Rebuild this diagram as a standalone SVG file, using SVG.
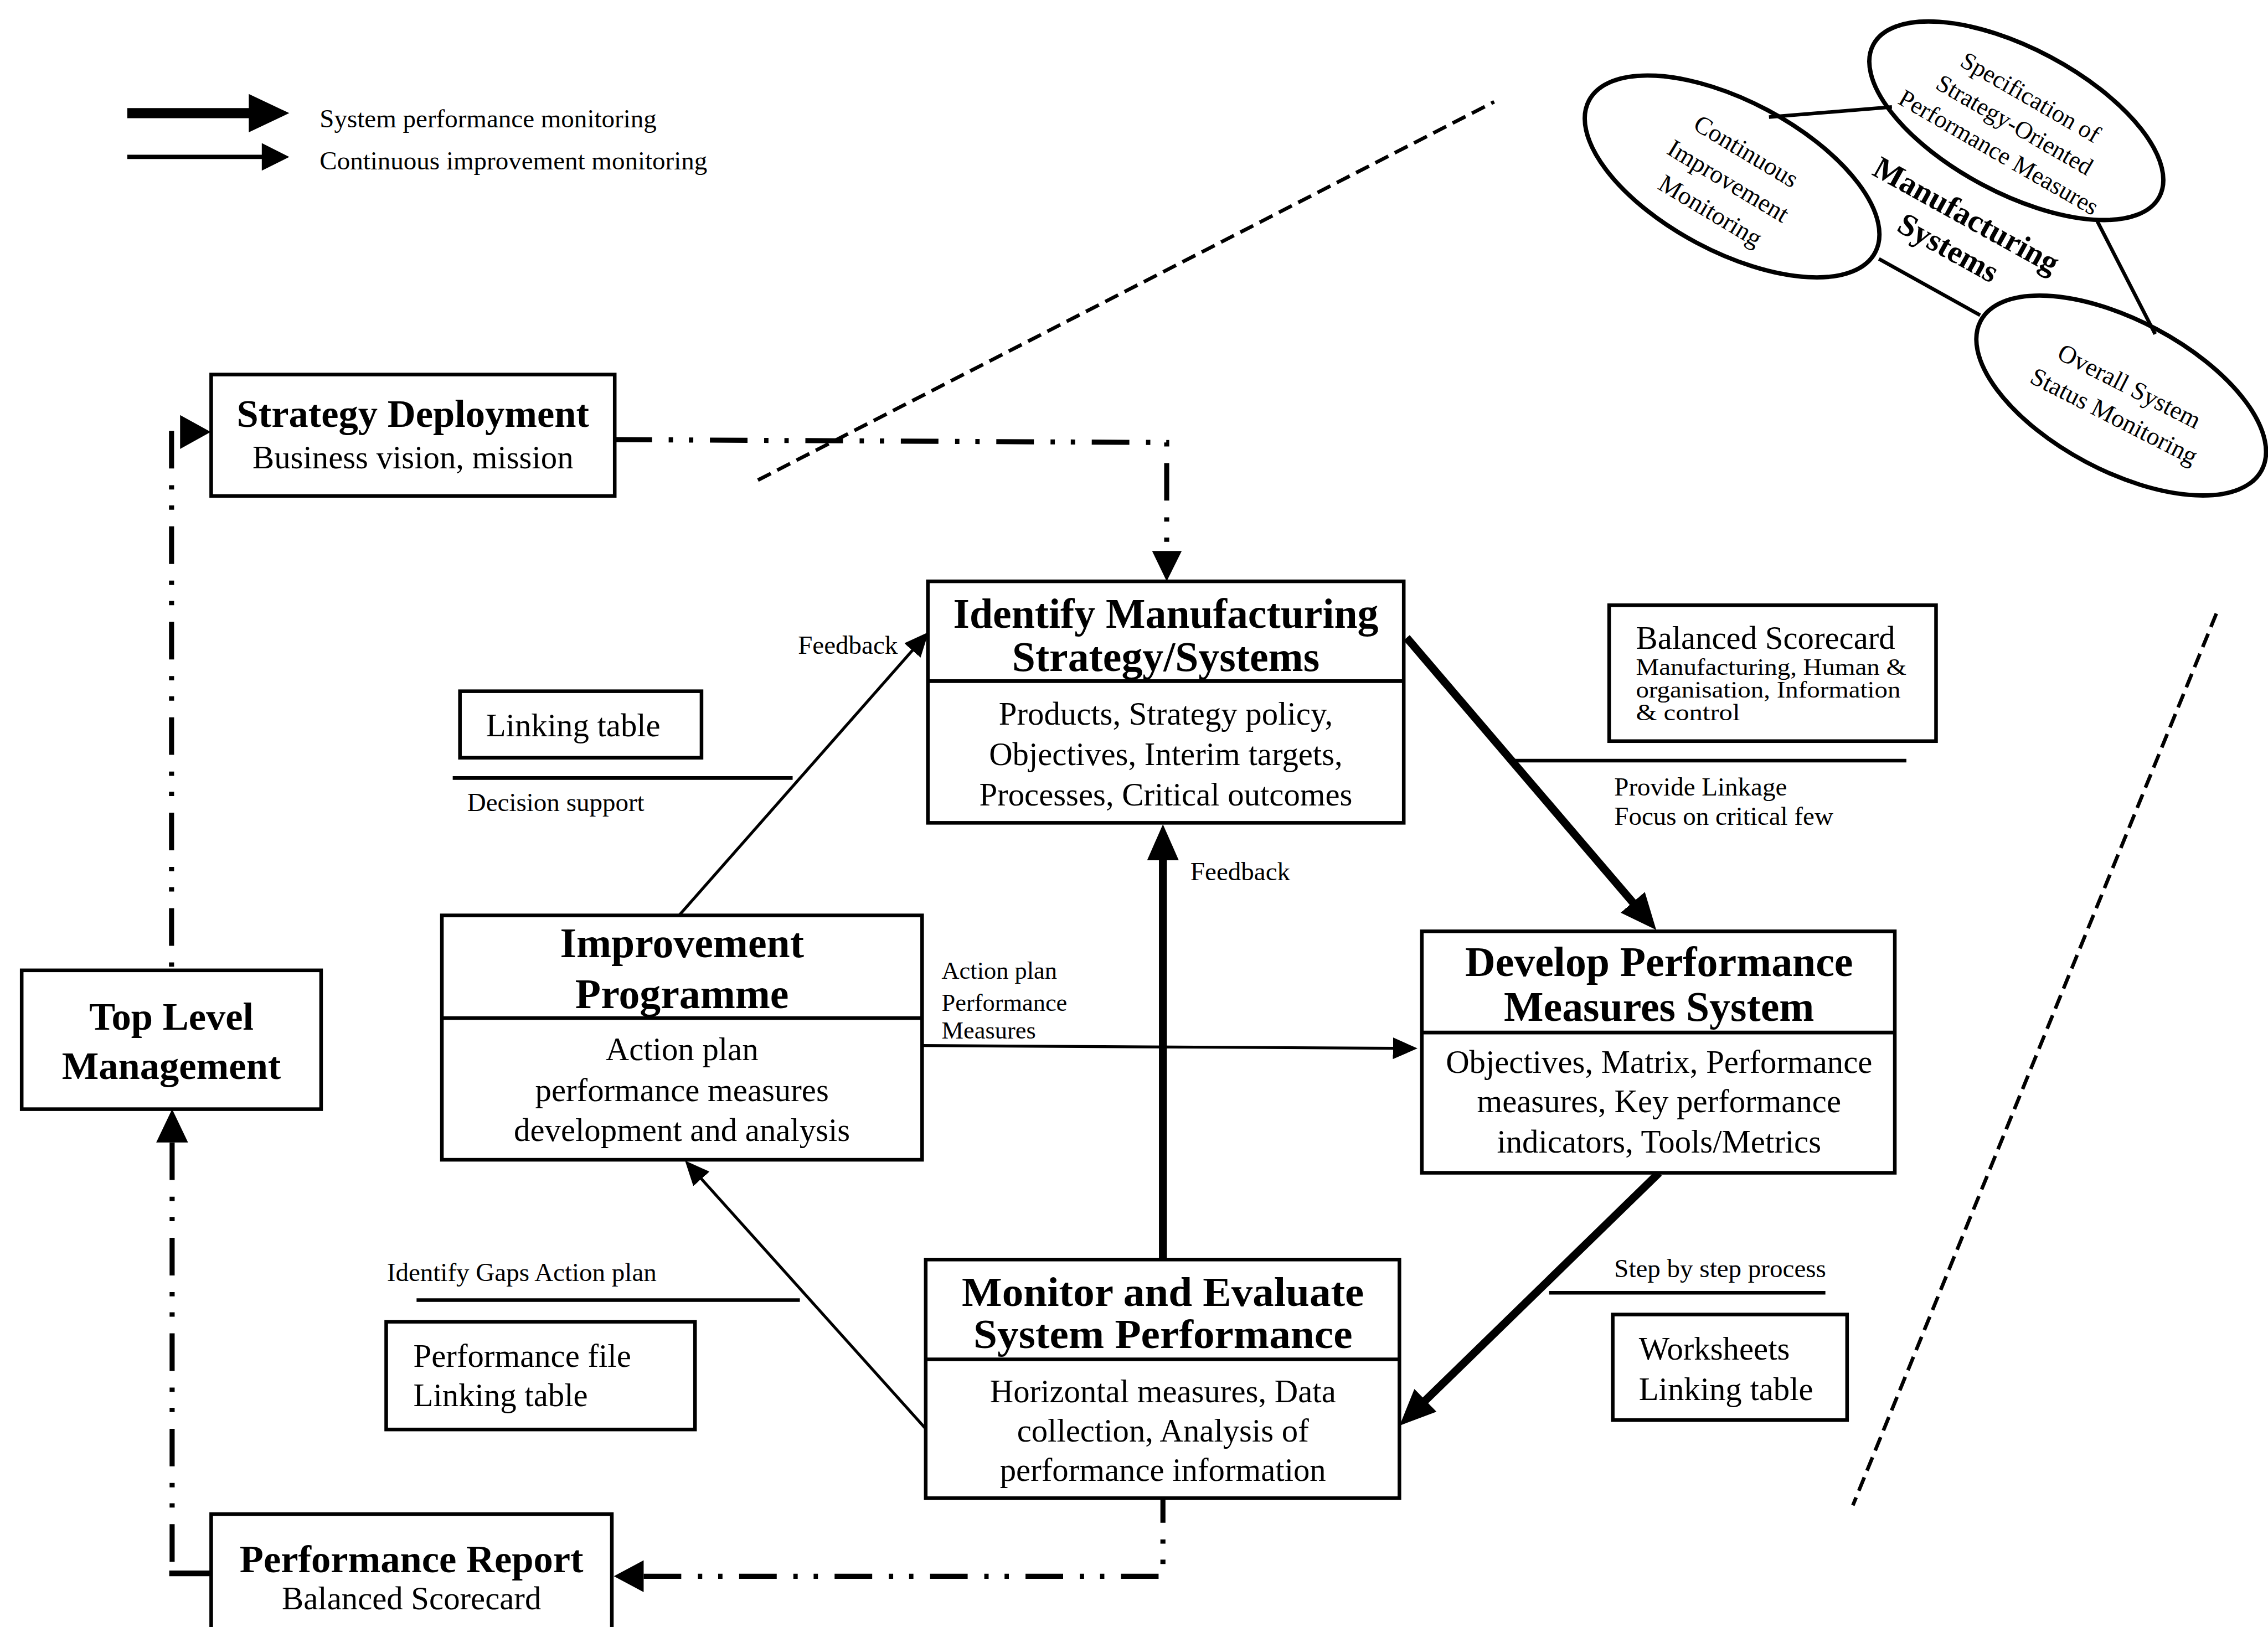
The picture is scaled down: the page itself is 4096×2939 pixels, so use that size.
<svg xmlns="http://www.w3.org/2000/svg" width="4096" height="2939" viewBox="0 0 4096 2939">
<style>
.box{fill:#fff;stroke:#000;stroke-width:2.5}
.div{stroke:#000;stroke-width:2.5}
.t{font-family:"Liberation Serif","Times New Roman",serif;fill:#000}
.ttl{font-weight:bold;font-size:29px;text-anchor:middle}
.ttl2{font-weight:bold;font-size:27px;text-anchor:middle}
.body{font-size:22.5px;text-anchor:middle}
.bodyL{font-size:22.5px}
.lbl{font-size:18px}
.lbl17{font-size:17px}
.sm{font-size:16px}
.dd{fill:none;stroke:#000;stroke-width:3.5;stroke-dasharray:26 11.5 3 11 3 11.5}
.dash{fill:none;stroke:#000;stroke-width:2.5;stroke-dasharray:10 5}
.thick{fill:none;stroke:#000;stroke-width:5.5}
.thin{fill:none;stroke:#000;stroke-width:2}
.rule{stroke:#000;stroke-width:2.5}
.ell{fill:none;stroke:#000;stroke-width:3}
.head{fill:#000;stroke:none}
</style>
<defs>
<marker id="bigHead" markerUnits="userSpaceOnUse" viewBox="0 0 25 22" markerWidth="25" markerHeight="22" refX="2" refY="11" orient="auto"><path d="M0,0 L25,11 L0,22 z" fill="#000"/></marker>
<marker id="smallHead" markerUnits="userSpaceOnUse" viewBox="0 0 17 15" markerWidth="17" markerHeight="15" refX="2" refY="7.5" orient="auto"><path d="M0,0 L17,7.5 L0,15 z" fill="#000"/></marker>
</defs>
<rect width="4096" height="2939" fill="#fff"/>
<g transform="scale(2.61224)">

<g id="legend">
<line x1="88" y1="78.2" x2="175" y2="78.2" stroke="#000" stroke-width="7"/>
<polygon class="head" points="172,65 200,78.2 172,91.5"/>
<line x1="88" y1="108.5" x2="183" y2="108.5" stroke="#000" stroke-width="3"/>
<polygon class="head" points="181,99 200,108.5 181,118"/>
<text class="t lbl" x="221" y="88">System performance monitoring</text>
<text class="t lbl" x="221" y="117">Continuous improvement monitoring</text>
</g>

<g id="separators">
<line class="dash" x1="524" y1="332" x2="1033" y2="70.4"/>
<line class="dash" x1="1532.3" y1="424.3" x2="1281" y2="1041"/>
</g>

<g id="connectors">
<path class="dd" d="M424.8,304 L806.6,306 L806.6,383"/>
<polygon class="head" points="796.5,381 817,381 806.6,402"/>
<path class="dd" d="M118.6,298 L118.6,670"/>
<polygon class="head" points="124.5,287 145.7,298.7 124.5,310.5"/>
<path class="dd" d="M119,790 L119,1088"/>
<polygon class="head" points="108,790 119,767 130,790"/>
<line x1="117" y1="1088" x2="146" y2="1088" stroke="#000" stroke-width="4"/>
<path class="dd" d="M445,1090 L804,1090 L804,1036"/>
<polygon class="head" points="445,1079 424.4,1090 445,1101"/>
<line class="thick" x1="972.5" y1="441" x2="1130.1" y2="625.5" marker-end="url(#bigHead)"/>
<line class="thick" x1="1147" y1="811" x2="984.1" y2="969.75" marker-end="url(#bigHead)"/>
<line class="thick" x1="804" y1="871" x2="804" y2="593" marker-end="url(#bigHead)"/>
<line class="thin" x1="469.5" y1="633" x2="632.1" y2="448.3" marker-end="url(#smallHead)"/>
<line class="thin" x1="638" y1="723" x2="965" y2="724.9" marker-end="url(#smallHead)"/>
<line class="thin" x1="640.3" y1="988.3" x2="483.6" y2="813.7" marker-end="url(#smallHead)"/>
<text class="t lbl" x="551.7" y="452">Feedback</text>
<text class="t lbl" x="823" y="608.6">Feedback</text>
<text class="t lbl17" x="651" y="677">Action plan</text>
<text class="t lbl17" x="651" y="699">Performance</text>
<text class="t lbl17" x="651" y="718">Measures</text>
</g>

<g id="strategy-deployment">
<rect class="box" x="146" y="259" width="279" height="84"/>
<text class="t ttl2" x="285.5" y="295">Strategy Deployment</text>
<text class="t body" x="285.5" y="324">Business vision, mission</text>
</g>

<g id="top-level-management">
<rect class="box" x="15" y="671" width="207" height="96"/>
<text class="t ttl2" x="118.5" y="712">Top Level</text>
<text class="t ttl2" x="118.5" y="746">Management</text>
</g>

<g id="performance-report">
<rect class="box" x="146" y="1047" width="277" height="90"/>
<text class="t ttl2" x="284.5" y="1087">Performance Report</text>
<text class="t body" x="284.5" y="1113">Balanced Scorecard</text>
</g>

<g id="identify-strategy">
<rect class="box" x="641.5" y="402" width="329" height="167"/>
<line class="div" x1="641.5" y1="471" x2="970.5" y2="471"/>
<text class="t ttl" x="806" y="434">Identify Manufacturing</text>
<text class="t ttl" x="806" y="464">Strategy/Systems</text>
<text class="t body" x="806" y="501">Products, Strategy policy,</text>
<text class="t body" x="806" y="529">Objectives, Interim targets,</text>
<text class="t body" x="806" y="557">Processes, Critical outcomes</text>
</g>

<g id="improvement-programme">
<rect class="box" x="305.5" y="633" width="332" height="169"/>
<line class="div" x1="305.5" y1="704" x2="637.5" y2="704"/>
<text class="t ttl" x="471.5" y="662">Improvement</text>
<text class="t ttl" x="471.5" y="697">Programme</text>
<text class="t body" x="471.5" y="733">Action plan</text>
<text class="t body" x="471.5" y="761.5">performance measures</text>
<text class="t body" x="471.5" y="789">development and analysis</text>
</g>

<g id="develop-measures">
<rect class="box" x="983" y="644" width="327" height="167"/>
<line class="div" x1="983" y1="714" x2="1310" y2="714"/>
<text class="t ttl" x="1147" y="675">Develop Performance</text>
<text class="t ttl" x="1147" y="706">Measures System</text>
<text class="t body" x="1147" y="742">Objectives, Matrix, Performance</text>
<text class="t body" x="1147" y="769">measures, Key  performance</text>
<text class="t body" x="1147" y="797">indicators, Tools/Metrics</text>
</g>

<g id="monitor-evaluate">
<rect class="box" x="640" y="871" width="327.5" height="165"/>
<line class="div" x1="640" y1="940" x2="967.5" y2="940"/>
<text class="t" font-weight="bold" font-size="28" text-anchor="middle" x="804" y="903" textLength="278" lengthAdjust="spacingAndGlyphs">Monitor and Evaluate</text>
<text class="t" font-weight="bold" font-size="28" text-anchor="middle" x="804" y="932" textLength="262" lengthAdjust="spacingAndGlyphs">System Performance</text>
<text class="t body" x="804" y="969.5">Horizontal measures, Data</text>
<text class="t body" x="804" y="997">collection, Analysis of</text>
<text class="t body" x="804" y="1024">performance information</text>
</g>

<g id="linking-table">
<rect class="box" x="318" y="478" width="167" height="46"/>
<text class="t bodyL" x="336" y="509">Linking table</text>
<line class="rule" x1="313" y1="538" x2="548" y2="538"/>
<text class="t lbl" x="323" y="561">Decision support</text>
</g>

<g id="balanced-scorecard">
<rect class="box" x="1112.5" y="418.5" width="226" height="94"/>
<text class="t bodyL" x="1131" y="448.5">Balanced Scorecard</text>
<text class="t sm" x="1131" y="466.5" textLength="187" lengthAdjust="spacingAndGlyphs">Manufacturing, Human &amp;</text>
<text class="t sm" x="1131" y="482.5" textLength="183" lengthAdjust="spacingAndGlyphs">organisation, Information</text>
<text class="t sm" x="1131" y="498" textLength="72" lengthAdjust="spacingAndGlyphs">&amp; control</text>
<line class="rule" x1="1047" y1="526" x2="1318" y2="526"/>
<text class="t lbl" x="1116" y="550">Provide Linkage</text>
<text class="t lbl" x="1116" y="570.5">Focus on critical few</text>
</g>

<g id="performance-file">
<text class="t lbl" x="267.5" y="886">Identify Gaps Action plan</text>
<line class="rule" x1="288" y1="899" x2="553" y2="899"/>
<rect class="box" x="267" y="914" width="213.5" height="74.5"/>
<text class="t bodyL" x="285.8" y="945">Performance file</text>
<text class="t bodyL" x="285.8" y="972.5">Linking table</text>
</g>

<g id="worksheets">
<text class="t lbl" x="1116" y="883">Step by step process</text>
<line class="rule" x1="1071" y1="894" x2="1262" y2="894"/>
<rect class="box" x="1115" y="909" width="162" height="73"/>
<text class="t bodyL" x="1133" y="940">Worksheets</text>
<text class="t bodyL" x="1133" y="968">Linking table</text>
</g>

<g id="manufacturing-systems">
<line class="rule" x1="1223" y1="81" x2="1308" y2="74"/>
<line class="rule" x1="1299" y1="179" x2="1369" y2="218"/>
<line class="rule" x1="1450" y1="153" x2="1490" y2="231"/>
<ellipse class="ell" cx="1197.5" cy="122" rx="112" ry="52" transform="rotate(28 1197.5 122)"/>
<ellipse class="ell" cx="1394" cy="83.5" rx="112" ry="50" transform="rotate(28 1394 83.5)"/>
<ellipse class="ell" cx="1466.5" cy="273.5" rx="110" ry="52" transform="rotate(28 1466.5 273.5)"/>
<text class="t" font-size="17.5" text-anchor="middle" transform="translate(1195 125) rotate(31)"><tspan x="0" y="-18">Continuous</tspan><tspan x="0" y="6">Improvement</tspan><tspan x="0" y="30">Monitoring</tspan></text>
<text class="t" font-size="17" text-anchor="middle" transform="translate(1393 86) rotate(30)"><tspan x="0" y="-16">Specification of</tspan><tspan x="0" y="6">Strategy-Oriented</tspan><tspan x="0" y="28">Performance Measures</tspan></text>
<text class="t" font-size="17.5" text-anchor="middle" transform="translate(1467 277.25) rotate(27)"><tspan x="0" y="-5.65">Overall System</tspan><tspan x="0" y="17.65">Status Monitoring</tspan></text>
<text class="t" font-size="22" font-weight="bold" text-anchor="middle" transform="translate(1353.35 159.85) rotate(29)"><tspan x="0" y="-5.35">Manufacturing</tspan><tspan x="0" y="20.35">Systems</tspan></text>
</g>

</g>
</svg>
